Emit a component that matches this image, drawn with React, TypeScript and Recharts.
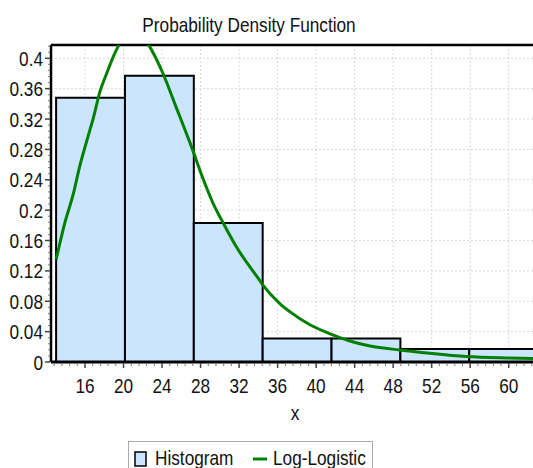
import React from "react";
import {
  ComposedChart,
  Line,
  XAxis,
  YAxis,
  CartesianGrid,
  ReferenceArea,
  ReferenceLine,
} from "recharts";

// Histogram bins (edges) and densities
const binEdges = [13.0, 20.15, 27.3, 34.45, 41.6, 48.75, 55.9, 63.05];
const binDensity = [0.348, 0.377, 0.183, 0.031, 0.031, 0.017, 0.017];

// Log-Logistic fitted curve
const curveX = [
  13.0, 13.9, 14.8, 15.4, 16.2, 16.9, 17.55, 18.25, 18.8, 19.55, 20.3, 21.1,
  21.9, 22.6, 24.1, 25.3, 27.1, 28.3, 29.3, 30.35, 31.7, 34.0, 34.5, 36.2,
  37.3, 39.4, 41.4, 43.5, 45.6, 48.7, 51.8, 55.6, 60.1, 62.6,
];
const curveY = [
  0.135, 0.183, 0.222, 0.255, 0.292, 0.323, 0.356, 0.38, 0.398, 0.418, 0.431,
  0.436, 0.431, 0.418, 0.38, 0.341, 0.282, 0.24, 0.209, 0.183, 0.152, 0.11,
  0.101, 0.0773, 0.066, 0.0487, 0.0375, 0.0277, 0.0211, 0.0158, 0.0115, 0.0072,
  0.0052, 0.0045,
];

const xTicks = [16, 20, 24, 28, 32, 36, 40, 44, 48, 52, 56, 60];
const yTicks = [0, 0.04, 0.08, 0.12, 0.16, 0.2, 0.24, 0.28, 0.32, 0.36, 0.4];
const yTickLabels = ["0", "0.04", "0.08", "0.12", "0.16", "0.2", "0.24", "0.28", "0.32", "0.36", "0.4"];
const xDomain: [number, number] = [12.47, 62.52];
const yDomain: [number, number] = [0, 0.4175];

const title = "Probability Density Function";
const xLabel = "x";
const legendLabels = ["Histogram", "Log-Logistic"];

const FONT = "'Liberation Sans', Arial, sans-serif";
const FS = 21;
const SX = 0.82;
const BAR_FILL = "#cce5ff";
const LINE_COLOR = "#008000";

const curveData = curveX.map((x, i) => ({ x, y: curveY[i] }));

// minor tick positions
const xMinor: number[] = [];
for (let v = 12.8; v <= 62.5; v += 0.8) xMinor.push(Math.round(v * 100) / 100);
const yMinor: number[] = [];
for (let k = 0; k <= 52; k++) {
  const v = Math.round(k * 0.008 * 1000) / 1000;
  if (v <= yDomain[1]) yMinor.push(v);
}

const isMajorX = (v: number) => xTicks.some((t) => Math.abs(t - v) < 1e-6);
const isMajorY = (v: number) => yTicks.some((t) => Math.abs(t - v) < 1e-6);

const NText = ({ x, y, anchor, children }: any) => (
  <text
    transform={`translate(${x},${y}) scale(${SX},1)`}
    x={0}
    y={0}
    textAnchor={anchor || "start"}
    fontFamily={FONT}
    fontSize={FS}
    fill="#111"
  >
    {children}
  </text>
);

const XTick = (props: any) => {
  const { x, y, payload } = props;
  const v = payload.value;
  const major = isMajorX(v);
  return (
    <g>
      <line
        x1={x}
        x2={x}
        y1={y + 1}
        y2={y + (major ? 6 : 4)}
        stroke={major ? "#444" : "#777"}
        strokeWidth={major ? 1.5 : 1}
      />
      {major && (
        <NText x={x} y={y + 31} anchor="middle">
          {String(v)}
        </NText>
      )}
    </g>
  );
};

const YTick = (props: any) => {
  const { x, y, payload } = props;
  const v = payload.value;
  const major = isMajorY(v);
  const idx = yTicks.findIndex((t) => Math.abs(t - v) < 1e-6);
  return (
    <g>
      <line
        x1={x - 1}
        x2={x - (major ? 6 : 3)}
        y1={y}
        y2={y}
        stroke={major ? "#444" : "#777"}
        strokeWidth={major ? 1.5 : 1}
      />
      {major && (
        <NText x={x - 8} y={y + 7.5} anchor="end">
          {yTickLabels[idx]}
        </NText>
      )}
    </g>
  );
};

export default function App() {
  return (
    <div
      style={{
        position: "fixed",
        left: 0,
        top: 0,
        width: 533,
        height: 468,
        overflow: "hidden",
        background: "#fff",
      }}
    >
      <ComposedChart
        width={533}
        height={468}
        data={curveData}
        margin={{ top: 45, right: 0, bottom: 46, left: 0 }}
      >
        <CartesianGrid
          horizontal={true}
          vertical={true}
          horizontalValues={yTicks.slice(1)}
          verticalValues={xTicks}
          stroke="#d8d8d8"
          strokeDasharray="2 2"
        />
        <XAxis
          type="number"
          dataKey="x"
          domain={xDomain}
          allowDataOverflow
          ticks={xMinor}
          interval={0}
          height={60}
          tickSize={0}
          tickMargin={0}
          tickLine={false}
          tick={<XTick />}
          axisLine={{ stroke: "#000", strokeWidth: 3 }}
        />
        <YAxis
          type="number"
          domain={yDomain}
          allowDataOverflow
          ticks={yMinor}
          interval={0}
          width={51}
          tickSize={0}
          tickMargin={0}
          tickLine={false}
          tick={<YTick />}
          axisLine={{ stroke: "#000", strokeWidth: 2.5 }}
        />
        {binDensity.map((d, i) => (
          <ReferenceArea
            key={i}
            x1={binEdges[i]}
            x2={binEdges[i + 1]}
            y1={0}
            y2={d}
            fill={BAR_FILL}
            fillOpacity={1}
            stroke="#000"
            strokeWidth={2}
            ifOverflow="hidden"
          />
        ))}
        <ReferenceLine y={yDomain[1]} stroke="#000" strokeWidth={2.5} />
        <Line
          type="monotone"
          dataKey="y"
          stroke={LINE_COLOR}
          strokeWidth={3}
          dot={false}
          activeDot={false}
          isAnimationActive={false}
        />
      </ComposedChart>
      <svg
        width={533}
        height={468}
        style={{ position: "absolute", left: 0, top: 0, pointerEvents: "none" }}
      >
        <NText x={249} y={32} anchor="middle">
          {title}
        </NText>
        <NText x={295} y={420} anchor="middle">
          {xLabel}
        </NText>
        <rect x={128.5} y={441.5} width={244} height={40} fill="#fff" stroke="#aaa" strokeWidth={1} />
        <rect x={135} y={452} width={11} height={14} fill={BAR_FILL} stroke="#000" strokeWidth={1.5} />
        <NText x={155} y={465}>
          {legendLabels[0]}
        </NText>
        <line x1={253} x2={267} y1={459} y2={459} stroke={LINE_COLOR} strokeWidth={3} />
        <NText x={273} y={465}>
          {legendLabels[1]}
        </NText>
      </svg>
    </div>
  );
}
